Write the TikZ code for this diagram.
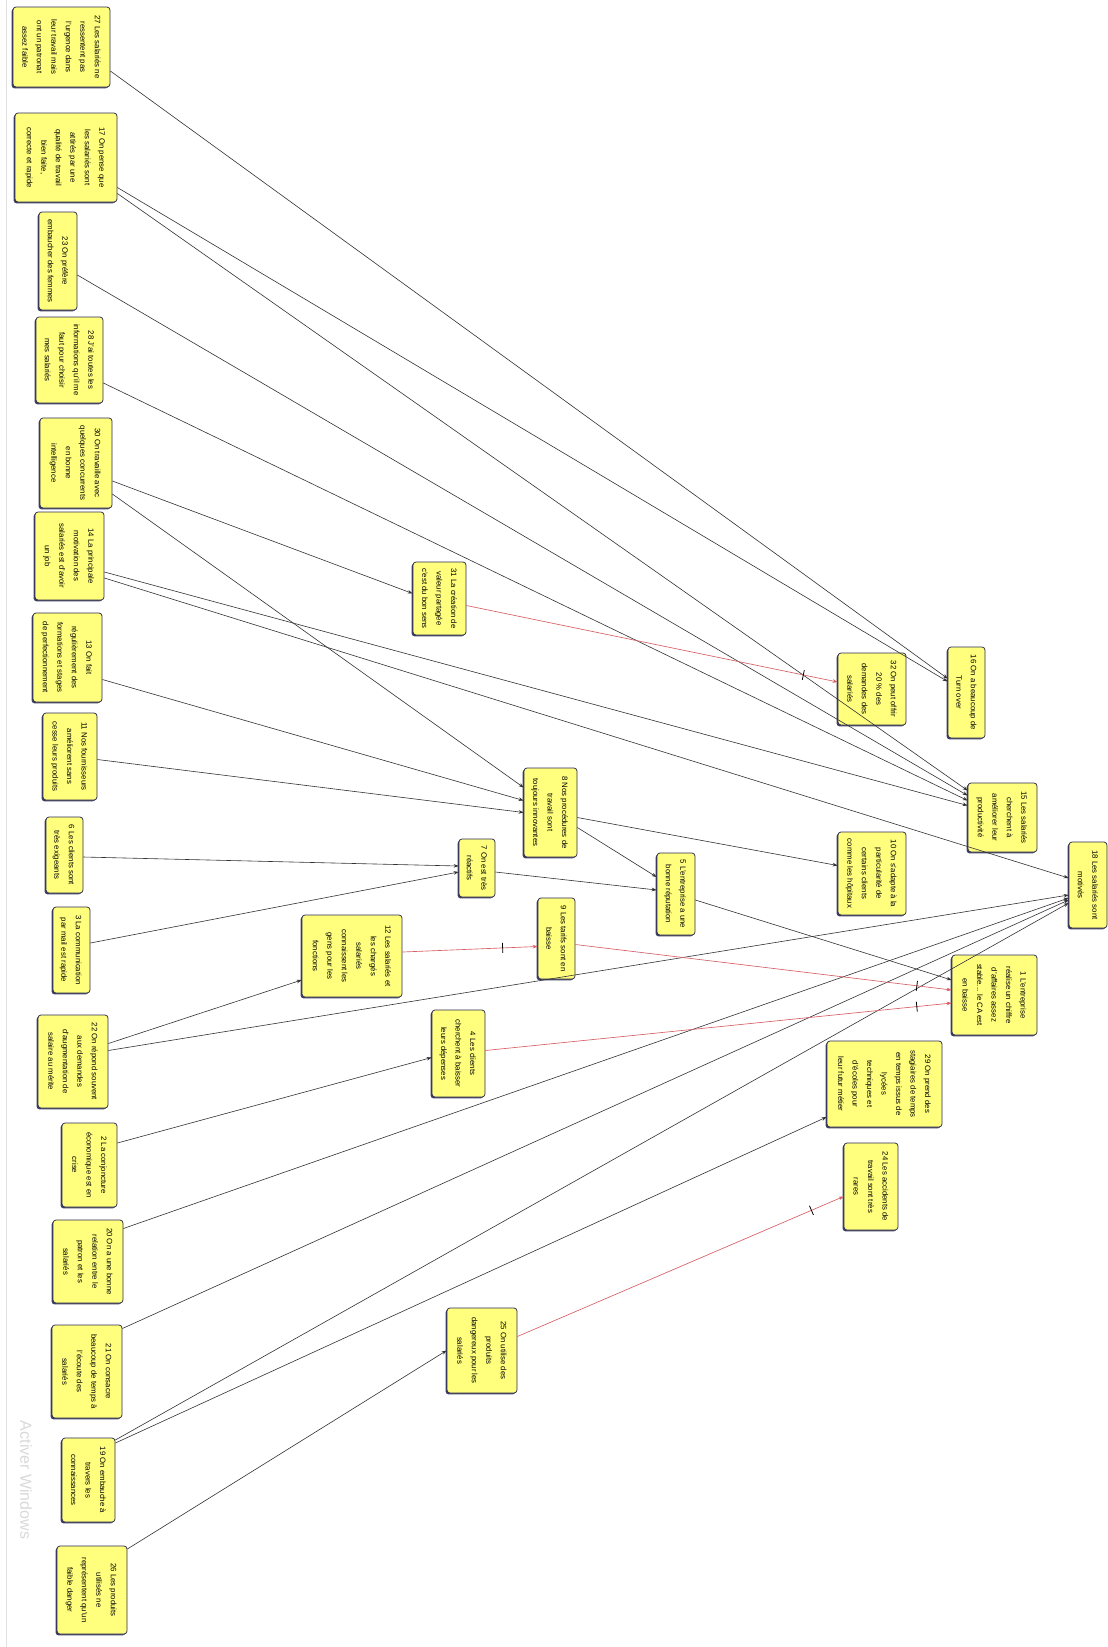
\documentclass[tikz,border=0pt]{standalone}
\usepackage{fontspec}
\setmainfont{Liberation Sans}
\usepackage{graphicx}
\usetikzlibrary{arrows.meta,shadows,decorations.markings}

\definecolor{boxfill}{RGB}{255,255,125}
\definecolor{boxdraw}{RGB}{45,45,85}
\definecolor{edgegray}{RGB}{50,50,55}
\definecolor{edgered}{RGB}{215,95,100}

\newcommand{\rt}[1]{\rotatebox{-90}{\begin{tabular}{@{}c@{}}#1\end{tabular}}}

\tikzset{
  card/.style={draw=boxdraw, fill=boxfill, line width=0.75pt, rounded corners=3pt,
    inner sep=1pt,
    drop shadow={shadow xshift=-1.4pt, shadow yshift=-1.4pt, fill=boxdraw, opacity=0.9},
    font=\fontsize{7.8}{14.5}\selectfont},
  posedge/.style={draw=edgegray, line width=0.6pt, -{Stealth[length=5pt,width=3.6pt]}},
  negedge/.style={draw=edgered, line width=0.65pt, -{Stealth[length=5pt,width=3.6pt]},
    postaction={decorate},
    decoration={markings, mark=at position -35pt with {\draw[black, line width=0.8pt, -] (0,-5pt) -- (0,5pt);}}},
}

\begin{document}
\begin{tikzpicture}[x=1pt, y=-1pt]
\fill[white] (0,0) rectangle (1108,1647);
\useasboundingbox (0,0) rectangle (1108,1647);
\draw[black!12, line width=1pt] (6,0) -- (6,1647);
\node[rotate=-90, text=black!15, font=\fontsize{16}{18}\selectfont] (wm) at (26,1480) {Activer Windows};

% left column
\node[card, minimum width=97pt, minimum height=80pt] (n27) at (61.5,47) {\rt{27 Les salariés ne\\ressentent pas\\l'urgence dans\\leur travail mais\\ont un patronat\\assez faible}};
\node[card, minimum width=102pt, minimum height=89pt] (n17) at (66,157.5) {\rt{17 On pense que\\les salariés sont\\attirés par une\\qualité de travail\\bien faite,\\correcte et rapide}};
\node[card, minimum width=38pt, minimum height=98pt] (n23) at (58,261) {\rt{23 On préfère\\embaucher des femmes}};
\node[card, minimum width=67pt, minimum height=86pt] (n28) at (69.5,360) {\rt{28 J'ai toutes les\\informations qu'il me\\faut pour choisir\\mes salariés}};
\node[card, minimum width=72pt, minimum height=90pt] (n30) at (76,463) {\rt{30 On travaille avec\\quelques concurrents\\en bonne\\intelligence}};
\node[card, minimum width=69pt, minimum height=88pt] (n14) at (69.5,556) {\rt{14 La principale\\motivation des\\salariés est d'avoir\\un job}};
\node[card, minimum width=69pt, minimum height=89pt] (n13) at (67.5,657.5) {\rt{13 On fait\\régulièrement des\\formations et stages\\de perfectionnement}};
\node[card, minimum width=54pt, minimum height=87pt] (n11) at (70,756.5) {\rt{11 Nos fournisseurs\\améliorent sans\\cesse leurs produits}};
\node[card, minimum width=37pt, minimum height=76pt] (n6) at (64.5,855) {\rt{6 Les clients sont\\très exigeants}};
\node[card, minimum width=37pt, minimum height=86pt] (n3) at (71.5,950) {\rt{3 La communication\\par mail est rapide}};
\node[card, minimum width=70pt, minimum height=93pt] (n22) at (73,1061.5) {\rt{22 On répond souvent\\aux demandes\\d'augmentation de\\salaire au mérite}};
\node[card, minimum width=55pt, minimum height=84pt] (n2) at (89.5,1165) {\rt{2 La conjoncture\\économique est en\\crise}};
\node[card, minimum width=70pt, minimum height=83pt] (n20) at (88,1261.5) {\rt{20 On a une bonne\\relation entre le\\patron et les\\salariés}};
\node[card, minimum width=70pt, minimum height=93pt] (n21) at (87,1371.5) {\rt{21 On consacre\\beaucoup de temps à\\l'écoute des\\salariés}};
\node[card, minimum width=53pt, minimum height=84pt] (n19) at (88.5,1480) {\rt{19 On embauche à\\travers les\\connaissances}};
\node[card, minimum width=70pt, minimum height=88pt] (n26) at (92,1590) {\rt{26 Les produits\\utilisés ne\\représentent qu'un\\faible danger}};

% middle
\node[card, minimum width=53pt, minimum height=73pt] (n31) at (439.5,598.5) {\rt{31 La création de\\valeur partagée\\c'est du bon sens}};
\node[card, minimum width=53pt, minimum height=89pt] (n8) at (550.5,812.5) {\rt{8 Nos procédures de\\travail sont\\toujours innovantes}};
\node[card, minimum width=36pt, minimum height=58pt] (n7) at (477,868) {\rt{7 On est très\\réactifs}};
\node[card, minimum width=100pt, minimum height=82pt] (n12) at (352,956) {\rt{12 Les salariés et\\les chargés\\salariés\\connaissent les\\gens pour les\\fonctions}};
\node[card, minimum width=37pt, minimum height=81pt] (n9) at (556.5,938.5) {\rt{9 Les tarifs sont en\\baisse}};
\node[card, minimum width=38pt, minimum height=82pt] (n5) at (676,894) {\rt{5 L'entreprise a une\\bonne réputation}};
\node[card, minimum width=53pt, minimum height=87pt] (n4) at (458.5,1053.5) {\rt{4 Les clients\\cherchent à baisser\\leurs dépenses}};
\node[card, minimum width=70pt, minimum height=85pt] (n25) at (482,1350.5) {\rt{25 On utilise des\\produits\\dangereux pour les\\salariés}};

% right
\node[card, minimum width=68pt, minimum height=72pt] (n32) at (872,689) {\rt{32 On peut offrir\\20 \% des\\demandes des\\salariés}};
\node[card, minimum width=37pt, minimum height=91pt] (n16) at (966.5,692.5) {\rt{16 On a beaucoup de\\Turn over}};
\node[card, minimum width=69pt, minimum height=69pt] (n15) at (1002.5,817.5) {\rt{15 Les salariés\\cherchent à\\améliorer leur\\productivité}};
\node[card, minimum width=68pt, minimum height=83pt] (n10) at (872,873.5) {\rt{10 On s'adapte à la\\particularité de\\certains clients\\comme les hôpitaux}};
\node[card, minimum width=38pt, minimum height=86pt] (n18) at (1088,885) {\rt{18 Les salariés sont\\motivés}};
\node[card, minimum width=85pt, minimum height=80pt] (n1) at (994.5,995) {\rt{1 L'entreprise\\réalise un chiffre\\d'affaires assez\\stable... le CA est\\en baisse}};
\node[card, minimum width=115pt, minimum height=86pt] (n29) at (884.5,1084) {\rt{29 On prend des\\stagiaires de temps\\en temps issus de\\lycées\\techniques et\\d'écoles pour\\leur futur métier}};
\node[card, minimum width=54pt, minimum height=87pt] (n24) at (871,1186.5) {\rt{24 Les accidents de\\travail sont très\\rares}};

% positive links
\draw[posedge] ([yshift=-24pt]n27.east) -- ([yshift=14pt]n16.west);
\draw[posedge] ([yshift=-30pt]n17.east) -- ([yshift=11pt]n16.west);
\draw[posedge] ([yshift=-36pt]n17.east) -- ([yshift=27pt]n15.west);
\draw[posedge] ([yshift=-14pt]n23.east) -- ([yshift=22pt]n15.west);
\draw[posedge] ([yshift=-23pt]n28.east) -- ([yshift=17pt]n15.west);
\draw[posedge] ([yshift=-16pt]n14.east) -- ([yshift=12pt]n15.west);
\draw[posedge] ([yshift=-22pt]n14.east) -- ([yshift=7pt]n18.west);
\draw[posedge] ([yshift=-18pt]n30.east) -- ([yshift=5pt]n31.west);
\draw[posedge] ([yshift=-31pt]n30.east) -- ([yshift=25pt]n8.west);
\draw[posedge] ([yshift=-22pt]n13.east) -- ([yshift=12pt]n8.west);
\draw[posedge] ([yshift=-3pt]n11.east) -- ([yshift=0pt]n8.west);
\draw[posedge] ([yshift=-2pt]n6.east) -- ([yshift=2pt]n7.west);
\draw[posedge] ([yshift=7pt]n3.east) -- ([yshift=-4pt]n7.west);
\draw[posedge] ([yshift=18pt]n22.east) -- ([yshift=-24pt]n12.west);
\draw[posedge] ([yshift=11pt]n22.east) -- ([yshift=-10pt]n18.west);
\draw[posedge] ([yshift=22pt]n2.east) -- ([yshift=-4pt]n4.west);
\draw[posedge] ([yshift=33pt]n20.east) -- ([yshift=-13pt]n18.west);
\draw[posedge] ([yshift=43pt]n21.east) -- ([yshift=-15pt]n18.west);
\draw[posedge] ([yshift=40pt]n19.east) -- ([yshift=-18pt]n18.west);
\draw[posedge] ([yshift=37pt]n19.east) -- ([yshift=-33pt]n29.west);
\draw[posedge] ([yshift=41pt]n26.east) -- ([yshift=0pt]n25.west);
\draw[posedge] ([yshift=-5pt]n8.east) -- ([yshift=8pt]n10.west);
\draw[posedge] ([yshift=-15pt]n8.east) -- ([yshift=17pt]n5.west);
\draw[posedge] ([yshift=-4pt]n7.east) -- ([yshift=4pt]n5.west);
\draw[posedge] ([yshift=-6pt]n5.east) -- ([yshift=15pt]n1.west);

% negative links
\draw[negedge] ([yshift=-7pt]n31.east) -- ([yshift=7pt]n32.west);
\draw[negedge] ([yshift=4pt]n12.east) -- ([yshift=-8pt]n9.west);
\draw[negedge] ([yshift=-6pt]n9.east) -- ([yshift=5pt]n1.west);
\draw[negedge] ([yshift=3pt]n4.east) -- ([yshift=-8pt]n1.west);
\draw[negedge] ([yshift=14pt]n25.east) -- ([yshift=-10pt]n24.west);
\end{tikzpicture}
\end{document}
